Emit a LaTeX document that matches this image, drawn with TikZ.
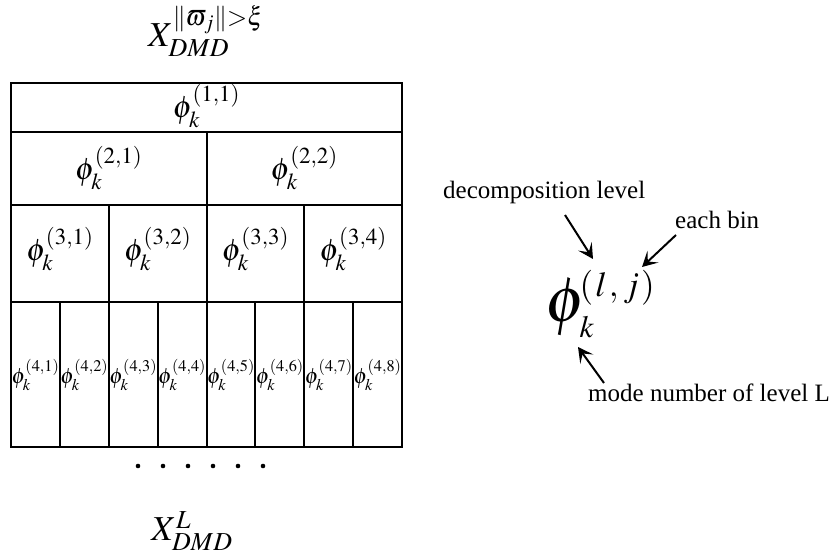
\documentclass[tikz,border=0pt]{standalone}
\usepackage{mathptmx}
\usepackage[no-math]{fontspec}
\setmainfont{Liberation Serif}
\usetikzlibrary{arrows.meta}
\newcommand\fsA{\fontsize{31}{37}\selectfont}
\newcommand\fsB{\fontsize{22}{26}\selectfont}
\newcommand\fsC{\fontsize{25}{30}\selectfont}
\tikzset{
  gridline/.style={line width=1.8pt},
  cellbl/.style={inner sep=0pt, font=\fsA},
  smallbl/.style={inner sep=0pt, font=\fsB},
  lbl/.style={inner sep=0pt, anchor=base west, font=\fsC},
  dotnode/.style={circle, fill, inner sep=0pt, minimum size=4.6pt},
  pointer/.style={line width=2pt, -{Stealth[length=15pt,width=16pt,inset=7pt]}}
}
\begin{document}
\begin{tikzpicture}[x=1pt,y=-1pt]
\useasboundingbox (0,0) rectangle (833,556);
% title
\node[inner sep=0pt, font=\fontsize{35}{42}\selectfont] (xtop) at (206,31) {$X_{DMD}^{\|\varpi_j\|>\xi}$};
% grid
\draw[gridline] (11,83) rectangle (402,447);
\foreach \y in {132,205,302}{ \draw[gridline] (11,\y) -- (402,\y); }
\draw[gridline] (207,132) -- (207,447);
\foreach \x in {109,304}{ \draw[gridline] (\x,205) -- (\x,447); }
\foreach \x in {60,158,255,353}{ \draw[gridline] (\x,302) -- (\x,447); }
% labels
\node[cellbl] (l11) at (206.5,106) {$\phi_k^{(1,1)}$};
\foreach \j in {1,2}{
  \node[cellbl] (l2\j) at ({11+195.5*(\j-0.5)},168) {$\phi_k^{(2,\j)}$};
}
\foreach \j in {1,...,4}{
  \node[cellbl] (l3\j) at ({11+97.75*(\j-0.5)},249) {$\phi_k^{(3,\j)}$};
}
\foreach \j in {1,...,8}{
  \node[smallbl] (l4\j) at ({11+48.875*(\j-0.5)},375) {$\phi_k^{(4,\j)}$};
}
% dots
\foreach \i in {1,...,6}{
  \node[dotnode] (d\i) at ({138+25*(\i-1)},466) {};
}
% bottom label
\node[inner sep=0pt, font=\fontsize{35}{42}\selectfont] (xbot) at (192,531) {$X_{DMD}^{L}$};
% legend formula
\node[inner sep=0pt, anchor=base west, font=\fontsize{64}{70}\selectfont] (phi) at (545,321)
  {$\phi$\kern-6pt\rlap{\raisebox{-16pt}{\fontsize{31}{34}\selectfont$k$}}\raisebox{24pt}{\fontsize{35}{40}\selectfont$(\kern2pt l\kern2pt,\kern1pt j\kern2pt)$}};
\node[lbl] (dec) at (443,199) {decomposition level};
\node[lbl] (bin) at (675,229) {each bin};
\node[lbl] (mode) at (588,401) {mode number of level L};
\coordinate (a1s) at (565,215);
\coordinate (a1e) at (593,259);
\coordinate (a2s) at (676,235);
\coordinate (a2e) at (642,267);
\coordinate (a3s) at (604,383);
\coordinate (a3e) at (578,347);
\draw[pointer] (a1s) -- (a1e);
\draw[pointer] (a2s) -- (a2e);
\draw[pointer] (a3s) -- (a3e);
\end{tikzpicture}
\end{document}
